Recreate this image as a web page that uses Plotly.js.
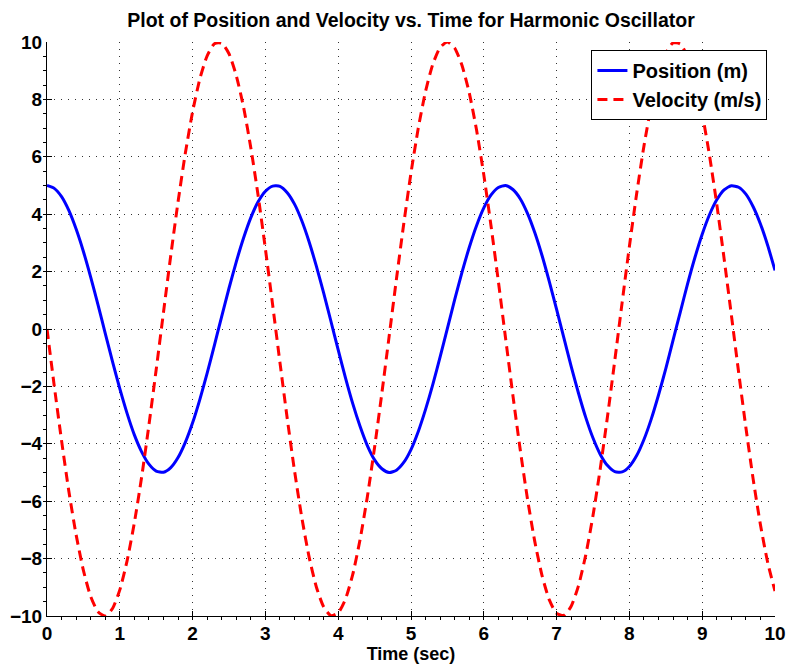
<!DOCTYPE html>
<html>
<head>
<meta charset="utf-8">
<script src="https://cdn.plot.ly/plotly-3.0.1.min.js"></script>
<style>html,body{margin:0;padding:0;background:#fff;}#chart{width:786px;height:664px;}</style>
</head>
<body>
<div id="chart"></div>
<script>
const time = [0.0,0.1,0.2,0.3,0.4,0.5,0.6,0.7,0.8,0.9,1.0,1.1,1.2,1.3,1.4,1.5,1.6,1.7,1.8,1.9,
  2.0,2.1,2.2,2.3,2.4,2.5,2.6,2.7,2.8,2.9,3.0,3.1,3.2,3.3,3.4,3.5,3.6,3.7,3.8,3.9,
  4.0,4.1,4.2,4.3,4.4,4.5,4.6,4.7,4.8,4.9,5.0,5.1,5.2,5.3,5.4,5.5,5.6,5.7,5.8,5.9,
  6.0,6.1,6.2,6.3,6.4,6.5,6.6,6.7,6.8,6.9,7.0,7.1,7.2,7.3,7.4,7.5,7.6,7.7,7.8,7.9,
  8.0,8.1,8.2,8.3,8.4,8.5,8.6,8.7,8.8,8.9,9.0,9.1,9.2,9.3,9.4,9.5,9.6,9.7,9.8,9.9,10.0];
const position = [5.00,4.90,4.61,4.13,3.48,2.70,1.81,0.85,-0.15,-1.14,-2.08,-2.94,-3.69,-4.28,-4.71,-4.95,-4.99,-4.83,-4.48,-3.95,
  -3.27,-2.45,-1.54,-0.56,0.44,1.42,2.34,3.17,3.88,4.43,4.80,4.98,4.97,4.75,4.35,3.77,3.04,2.19,1.26,0.27,
  -0.73,-1.70,-2.60,-3.39,-4.06,-4.56,-4.87,-5.00,-4.92,-4.65,-4.20,-3.57,-2.80,-1.93,-0.97,0.02,1.02,1.97,2.84,3.60,
  4.22,4.67,4.93,5.00,4.86,4.54,4.03,3.36,2.56,1.65,0.68,-0.31,-1.30,-2.23,-3.08,-3.80,-4.37,-4.76,-4.97,-4.98,
  -4.79,-4.41,-3.85,-3.14,-2.30,-1.38,-0.39,0.60,1.58,2.49,3.30,3.98,4.50,4.85,4.99,4.94,4.70,4.26,3.66,2.91,2.04];
const velocity = [0.00,-1.99,-3.89,-5.65,-7.17,-8.41,-9.32,-9.85,-10.00,-9.74,-9.09,-8.08,-6.75,-5.16,-3.35,-1.41,0.58,2.56,4.43,6.12,
  7.57,8.72,9.52,9.94,9.96,9.59,8.83,7.73,6.31,4.65,2.79,0.83,-1.17,-3.12,-4.94,-6.57,-7.94,-8.99,-9.68,-9.99,
  -9.89,-9.41,-8.55,-7.34,-5.85,-4.12,-2.23,-0.25,1.74,3.66,5.44,7.00,8.28,9.23,9.81,10.00,9.79,9.19,8.23,6.94,
  5.37,3.58,1.66,-0.34,-2.32,-4.20,-5.92,-7.40,-8.59,-9.44,-9.91,-9.98,-9.66,-8.95,-7.88,-6.50,-4.86,-3.03,-1.08,0.92,
  2.88,4.72,6.38,7.78,8.88,9.61,9.97,9.93,9.49,8.67,7.51,6.05,4.35,2.47,0.50,-1.50,-3.43,-5.23,-6.82,-8.14,-9.13];
const seriesNames = ["Position (m)", "Velocity (m/s)"];
const xTicks = [0,1,2,3,4,5,6,7,8,9,10];
const yTicks = [-10,-8,-6,-4,-2,0,2,4,6,8,10];

const FONT = "Liberation Sans, Arial, Helvetica, sans-serif";

const traces = [
  {x: time, y: position, name: seriesNames[0], type: "scatter", mode: "lines",
   line: {color: "#0000ff", width: 3, shape: "spline", smoothing: 0.6}},
  {x: time, y: velocity, name: seriesNames[1], type: "scatter", mode: "lines",
   line: {color: "#ff0000", width: 3, dash: "10px,6px", shape: "spline", smoothing: 0.6}}
];

const axisCommon = {
  showline: true, linecolor: "#000", linewidth: 1, mirror: false,
  showgrid: true, gridcolor: "#333", gridwidth: 1, griddash: "1px,6px",
  zeroline: false, ticks: "inside", ticklen: 5, tickwidth: 1, tickcolor: "#000",
  tickfont: {family: FONT, size: 19, color: "#000", weight: "bold"},
  fixedrange: true
};

const layout = {
  width: 786, height: 664,
  margin: {l: 47, r: 11, t: 42, b: 48, pad: 0},
  paper_bgcolor: "#fff", plot_bgcolor: "#fff",
  font: {family: FONT, color: "#000"},
  title: {text: "<b>Plot of Position and Velocity vs. Time for Harmonic Oscillator</b>",
          font: {family: FONT, size: 19.5, color: "#000"},
          x: 0.5, xanchor: "center", xref: "paper", y: 0.97, yref: "container", yanchor: "middle"},
  xaxis: Object.assign({}, axisCommon, {
    range: [0, 10], tickvals: xTicks, ticktext: xTicks.map(String),
    minor: {dtick: 0.2, ticklen: 3, tickcolor: "#000", showgrid: false},
    title: {text: "<b>Time (sec)</b>", font: {family: FONT, size: 18, color: "#000"}, standoff: 4}
  }),
  yaxis: Object.assign({}, axisCommon, {
    range: [-10, 10], tickvals: yTicks,
    minor: {dtick: 0.5, ticklen: 3, tickcolor: "#000", showgrid: false}
  }),
  showlegend: true,
  legend: {x: 0.9896, xanchor: "right", y: 0.986, yanchor: "top",
           bgcolor: "#fff", bordercolor: "#000", borderwidth: 1,
           font: {family: FONT, size: 20, color: "#000", weight: "bold"},
           tracegroupgap: 0, itemwidth: 30}
};

Plotly.newPlot("chart", traces, layout, {staticPlot: true, displayModeBar: false});
</script>
</body>
</html>
